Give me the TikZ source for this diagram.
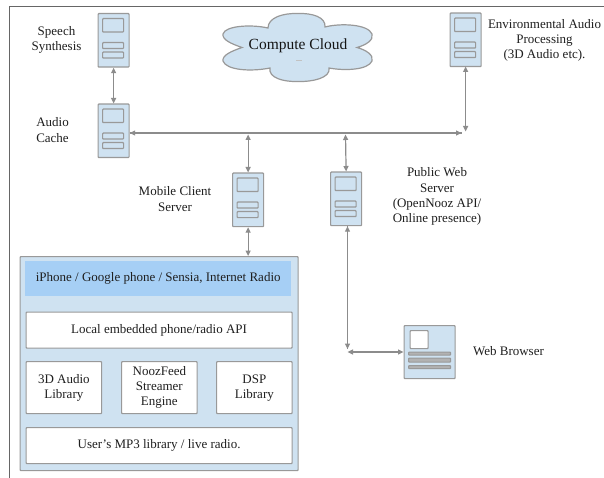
\documentclass[tikz,border=0pt]{standalone}
\usepackage{fontspec}
\setmainfont{Liberation Serif}
\usetikzlibrary{arrows.meta}
\definecolor{fillblue}{HTML}{CFE2F1}
\definecolor{headblue}{HTML}{A6CFF5}
\definecolor{edgegrey}{HTML}{999999}
\definecolor{linegrey}{HTML}{8C8C8C}
\tikzset{
  x=1pt,y=-1pt,
  box/.style={draw=edgegrey,line width=1.2pt,rounded corners=0.8pt,inner sep=0pt,anchor=north west},
  serverbody/.style={box,fill=fillblue,minimum width=31pt,minimum height=53.5pt},
  slotbox/.style={box,minimum width=21pt,minimum height=6pt},
  screenbox/.style={box,minimum width=21pt,minimum height=13.5pt},
  whitebox/.style={box,fill=white,font=\fontsize{13}{15}\selectfont,align=center,text=black!88},
  lbl/.style={font=\fontsize{13}{15.2}\selectfont,align=center,text=black!88,inner sep=0pt},
  link/.style={draw=linegrey,line width=1.2pt,{Triangle[length=5.5pt,width=5pt]}-{Triangle[length=5.5pt,width=5pt]}},
  linkr/.style={draw=linegrey,line width=1.1pt,-{Triangle[length=5.5pt,width=5pt]}},
}
\newcommand{\srv}[3]{%
  \node[serverbody] (#1) at (#2,#3) {};
  \node[screenbox] (#1a) at (#2+4.5,#3+5) {};
  \node[slotbox] (#1b) at (#2+4.5,#3+29) {};
  \node[slotbox] (#1c) at (#2+4.5,#3+38.5) {};
}
\begin{document}
\begin{tikzpicture}
\useasboundingbox (0,0) rectangle (604,478);
\fill[white] (0,0) rectangle (604,478);
\coordinate (ftl) at (9.5,6.5);
\coordinate (ftr) at (604,6.5);
\coordinate (fbl) at (9.5,478);
\draw[draw=black!60,line width=1pt] (fbl) -- (ftl) -- (ftr);

% cloud
\draw[draw=edgegrey,line width=1.2pt,fill=fillblue]
  (242,47.5)
  .. controls (232,44) and (222,40) .. (223,34)
  .. controls (225,26) and (250,24) .. (268,28)
  .. controls (268,18) and (282,13) .. (298,13.5)
  .. controls (312,13) and (326,17) .. (325,27)
  .. controls (340,23) and (368,24) .. (372,34)
  .. controls (374,40) and (366,45) .. (357,47.5)
  .. controls (366,50) and (374,55) .. (372,61)
  .. controls (368,70) and (345,71) .. (329,68)
  .. controls (331,78) and (312,82) .. (298,81.5)
  .. controls (284,82) and (268,78) .. (270,68)
  .. controls (250,72) and (226,70) .. (223,61)
  .. controls (222,55) and (232,51) .. (242,47.5) -- cycle;
\node[font=\fontsize{15.5}{17}\selectfont,text=black!92,inner sep=0pt] (cloudtxt) at (298,45.5) {Compute Cloud};
\draw[draw=edgegrey!60,line width=0.5pt] (296,60) -- (302,60);

% servers
\srv{speech}{97.5}{13}
\srv{cache}{97.5}{103.5}
\srv{mobile}{232}{172.5}
\srv{public}{330}{171.5}
\srv{env}{449.5}{12.5}

% labels
\node[lbl] (speechl) at (56.5,39.5) {Speech\\Synthesis};
\node[lbl] (cachel) at (52.5,130) {Audio\\Cache};
\node[lbl] (mobilel) at (175,199) {Mobile Client\\Server};
\node[lbl] (envl) at (544.5,40.5) {Environmental Audio\\Processing\\(3D Audio etc).};
\node[lbl] (publicl) at (437,196.5) {Public Web\\Server\\(OpenNooz API/\\Online presence)};
\node[lbl] (webl) at (508.5,351) {Web Browser};

% phone box
\node[box,fill=fillblue,minimum width=278pt,minimum height=214pt] (phone) at (19.5,256) {};
\node[anchor=north west,inner sep=0pt,fill=headblue,minimum width=266pt,minimum height=35pt,font=\fontsize{13}{15}\selectfont,text=black!88] (head) at (25,261) {iPhone / Google phone / Sensia, Internet Radio};
\node[whitebox,minimum width=266pt,minimum height=36pt] (api) at (25.5,311.5) {Local embedded phone/radio API};
\node[whitebox,minimum width=75.5pt,minimum height=52pt] (lib3d) at (25.5,361) {3D Audio\\Library};
\node[whitebox,minimum width=75.5pt,minimum height=52pt] (nooz) at (121,361) {NoozFeed\\Streamer\\Engine};
\node[whitebox,minimum width=75.5pt,minimum height=52pt] (dsp) at (216,361) {DSP\\Library};
\node[whitebox,minimum width=266pt,minimum height=36pt] (mp3) at (25.5,427) {User's MP3 library / live radio.};

% browser
\node[box,fill=fillblue,minimum width=51pt,minimum height=53pt] (web) at (403.5,325) {};
\node[box,fill=white,minimum width=18pt,minimum height=18pt] (webimg) at (409.5,330) {};
\node[box,fill=black!30,minimum width=42pt,minimum height=3pt] (webt1) at (408,351.5) {};
\node[box,fill=black!30,minimum width=42pt,minimum height=4pt] (webt2) at (408,357.5) {};
\node[box,fill=black!30,minimum width=42pt,minimum height=3pt] (webt3) at (408,365) {};

% connectors
\coordinate (busl) at (cache.east |- 0,133);
\coordinate (busr) at (461.5,133);
\coordinate (busm) at (mobile.north |- 0,134.5);
\coordinate (busp) at (345.5,134.5);
\coordinate (cornerup) at (461.5,131.5);
\coordinate (cornerd) at (347.5,349);
\coordinate (cornerh) at (347.5,352);
\draw[link] (speech.south) -- (cache.north);
\draw[linkr] (busr) -- (busl);
\draw[linkr] (busl) -- (busr);
\draw[link] (env.south |- 0,66.5) -- (cornerup -| env.south);
\draw[link] (busm) -- (mobile.north);
\draw[link] (busp) -- (public.north);
\draw[link] (mobile.south) -- (mobile.south |- phone.north);
\draw[linkr] (public.south -| cornerd) -- (cornerd);
\draw[linkr] (cornerd) -- (public.south -| cornerd);
\draw[link] (cornerh) -- (web.west |- cornerh);
\end{tikzpicture}
\end{document}
